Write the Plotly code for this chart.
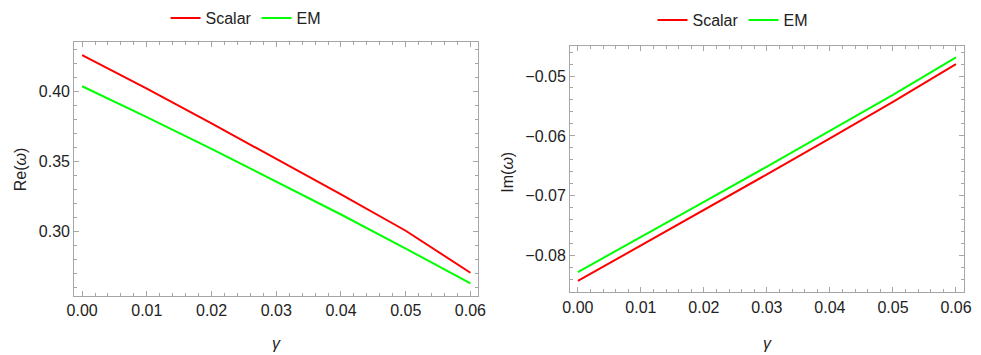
import plotly.graph_objects as go

gamma = [0.00, 0.01, 0.02, 0.03, 0.04, 0.05, 0.06]

re_scalar = [0.4257, 0.4017, 0.3769, 0.3517, 0.3261, 0.3002, 0.2702]
re_em = [0.4034, 0.3814, 0.3587, 0.3355, 0.3118, 0.2875, 0.2626]

im_scalar = [-0.08422, -0.07832, -0.07242, -0.06642, -0.06042, -0.05432, -0.04802]
im_em = [-0.08273, -0.07693, -0.07103, -0.06513, -0.05913, -0.05313, -0.04688]

RED = "#ff0000"
GREEN = "#00ff00"
FRAME = "#a6a6a6"
FONT = "Liberation Sans, Arial, sans-serif"

fig = go.Figure()
fig.add_trace(go.Scatter(x=gamma, y=re_scalar, mode="lines", name="Scalar",
                         line=dict(color=RED, width=2), xaxis="x", yaxis="y", legend="legend"))
fig.add_trace(go.Scatter(x=gamma, y=re_em, mode="lines", name="EM",
                         line=dict(color=GREEN, width=2), xaxis="x", yaxis="y", legend="legend"))
fig.add_trace(go.Scatter(x=gamma, y=im_scalar, mode="lines", name="Scalar",
                         line=dict(color=RED, width=2), xaxis="x2", yaxis="y2", legend="legend2"))
fig.add_trace(go.Scatter(x=gamma, y=im_em, mode="lines", name="EM",
                         line=dict(color=GREEN, width=2), xaxis="x2", yaxis="y2", legend="legend2"))

W, H = 981, 355


def ax(domain, rng, dtick, minor, fmt, anchor):
    return dict(domain=domain, range=rng, anchor=anchor, showgrid=False, zeroline=False,
                showline=True, linecolor=FRAME, linewidth=1, mirror="allticks",
                ticks="inside", ticklen=5, tickcolor=FRAME, tickwidth=1,
                dtick=dtick, tick0=0, tickformat=fmt,
                minor=dict(dtick=minor, ticks="inside", ticklen=3, tickcolor=FRAME, showgrid=False),
                tickfont=dict(size=16, color="#222", family=FONT))


fig.update_layout(
    width=W, height=H,
    margin=dict(l=0, r=0, t=0, b=0),
    paper_bgcolor="white", plot_bgcolor="white",
    font=dict(family=FONT, size=16, color="#222"),
    xaxis=ax([67.3 / W, 478 / W], [-0.00122, 0.0612], 0.01, 0.002, ".2f", "y"),
    yaxis=ax([1 - 296 / H, 1 - 42.3 / H], [0.2536, 0.4348], 0.05, 0.01, ".2f", "x"),
    xaxis2=ax([571.3 / W, 971.7 / W], [-0.00125, 0.06125], 0.01, 0.002, ".2f", "y2"),
    yaxis2=ax([1 - 292.3 / H, 1 - 45.7 / H], [-0.08611, -0.04494], 0.01, 0.002, ".2f", "x2"),
    legend=dict(orientation="h", x=242 / W, xanchor="center", y=1 - 18 / H, yanchor="middle",
                font=dict(size=16, family=FONT), itemwidth=30, bgcolor="rgba(0,0,0,0)"),
    legend2=dict(orientation="h", x=737 / W, xanchor="center", y=1 - 20 / H, yanchor="middle",
                 font=dict(size=16, family=FONT), itemwidth=30, bgcolor="rgba(0,0,0,0)"),
)

labels = [
    dict(text="Re(<i>ω</i>)", x=12.5 / W, y=1 - 169 / H, textangle=-90),
    dict(text="Im(<i>ω</i>)", x=507 / W, y=1 - 172 / H, textangle=-90),
    dict(text="<i>γ</i>", x=272.7 / W, y=1 - 343 / H, textangle=0),
    dict(text="<i>γ</i>", x=772 / W, y=1 - 343 / H, textangle=0),
]
for lab in labels:
    fig.add_annotation(xref="paper", yref="paper", showarrow=False,
                       xanchor="center", yanchor="middle",
                       font=dict(size=16, family=FONT, color="#222"), **lab)

# the page body has a default 8px margin; drop it so the figure sits at the corner
fig.write_html("out.html", config={"displayModeBar": False},
               post_script="document.body.style.margin='0';document.body.style.overflow='hidden';")
